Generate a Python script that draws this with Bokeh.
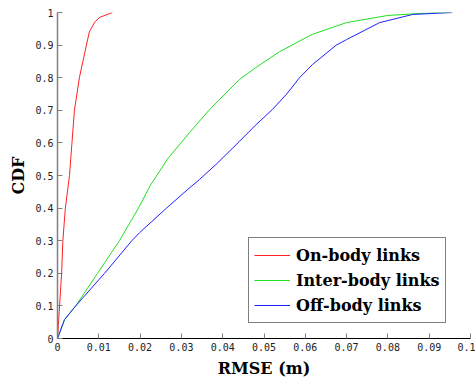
from bokeh.plotting import figure
from bokeh.models import Range1d, FixedTicker, Legend, LegendItem, CustomJSTickFormatter
from bokeh.embed import file_html
from bokeh.resources import INLINE

# Data
on_x = [0, 0.0005, 0.001, 0.0013, 0.0019, 0.0029, 0.0035, 0.0041, 0.0053, 0.0070, 0.0077, 0.0090, 0.0102, 0.0133]
on_y = [0, 0.1, 0.2, 0.3, 0.4, 0.5, 0.6, 0.7, 0.8, 0.9, 0.94, 0.97, 0.985, 1.0]

inter_x = [0, 0.0017, 0.0044, 0.0097, 0.015, 0.0196, 0.0225, 0.0266, 0.032, 0.0368, 0.044,
           0.048, 0.0538, 0.0617, 0.070, 0.080, 0.0918, 0.095]
inter_y = [0, 0.058, 0.1, 0.2, 0.3, 0.4, 0.47, 0.55, 0.632, 0.702, 0.794,
           0.831, 0.880, 0.933, 0.969, 0.991, 1.0, 1.0]

off_x = [0, 0.0017, 0.0044, 0.0114, 0.018, 0.0199, 0.0264, 0.0315, 0.0344, 0.0384, 0.044, 0.048,
         0.052, 0.0555, 0.0586, 0.0617, 0.0675, 0.070, 0.078, 0.086, 0.0956]
off_y = [0, 0.058, 0.1, 0.2, 0.3, 0.325, 0.40, 0.457, 0.488, 0.534, 0.604, 0.655,
         0.702, 0.75, 0.8, 0.84, 0.9, 0.917, 0.969, 0.994, 1.0]

labels = ["On-body links", "Inter-body links", "Off-body links"]
colors = ["#ff2020", "#20e020", "#2020ff"]

x_ticks = [0, 0.01, 0.02, 0.03, 0.04, 0.05, 0.06, 0.07, 0.08, 0.09, 0.1]
y_ticks = [0, 0.1, 0.2, 0.3, 0.4, 0.5, 0.6, 0.7, 0.8, 0.9, 1.0]

p = figure(width=475, height=381, output_backend="svg", toolbar_location=None,
           x_range=Range1d(0, 0.1), y_range=Range1d(0, 1))
p.min_border_left = 57
p.min_border_right = 5
p.min_border_top = 12
p.min_border_bottom = 43
p.outline_line_color = None
p.xgrid.visible = False
p.ygrid.visible = False

r1 = p.line(on_x, on_y, line_color=colors[0], line_width=1)
r2 = p.line(inter_x, inter_y, line_color=colors[1], line_width=1)
r3 = p.line(off_x, off_y, line_color=colors[2], line_width=1)

fmt = CustomJSTickFormatter(code="""
if (tick == 0) return '0';
if (Math.abs(tick - 1) < 1e-9) return '1';
return (Math.round(tick*100)/100).toString();
""")

for ax in (p.xaxis[0], p.yaxis[0]):
    ax.major_tick_in = 5
    ax.major_tick_out = 0
    ax.minor_tick_line_color = None
    ax.major_tick_line_color = "#808080"
    ax.major_label_text_font = "DejaVu Sans Mono"
    ax.major_label_text_font_size = "10px"
    ax.major_label_text_color = "#222222"
    ax.major_label_standoff = 4
    ax.axis_label_text_font = "DejaVu Serif"
    ax.axis_label_text_font_style = "bold"
    ax.axis_label_text_font_size = "16px"
    ax.axis_label_text_color = "#000000"
    ax.formatter = fmt

p.xaxis[0].ticker = FixedTicker(ticks=x_ticks)
p.yaxis[0].ticker = FixedTicker(ticks=y_ticks)
p.xaxis[0].axis_label = "RMSE (m)"
p.yaxis[0].axis_label = "CDF"
p.xaxis[0].axis_line_color = "#000000"
p.xaxis[0].axis_line_width = 1
p.yaxis[0].axis_line_color = "#808080"
p.yaxis[0].axis_line_width = 1.5
p.xaxis[0].axis_label_standoff = 5
p.yaxis[0].axis_label_standoff = 4

legend = Legend(items=[LegendItem(label=labels[0], renderers=[r1]),
                       LegendItem(label=labels[1], renderers=[r2]),
                       LegendItem(label=labels[2], renderers=[r3])],
                location=(191, 15))
legend.border_line_color = "#000000"
legend.border_line_width = 1
legend.background_fill_color = "#ffffff"
legend.background_fill_alpha = 1
legend.label_text_font = "DejaVu Serif"
legend.label_text_font_style = "bold"
legend.label_text_font_size = "16px"
legend.label_text_color = "#000000"
legend.glyph_width = 36
legend.label_height = 24
legend.glyph_height = 24
legend.spacing = 1
legend.padding = 5
legend.label_standoff = 6
legend.margin = 0
p.add_layout(legend)

open("out.html", "w").write(file_html(p, INLINE))
